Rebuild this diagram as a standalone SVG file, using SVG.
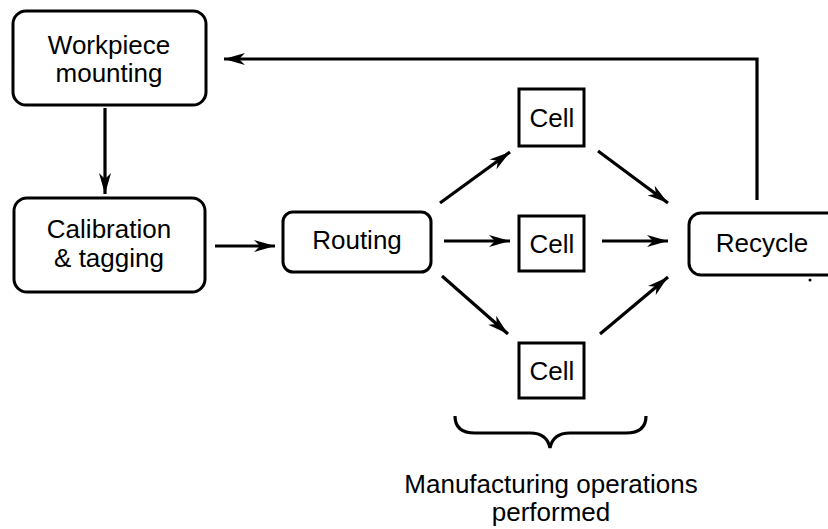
<svg xmlns="http://www.w3.org/2000/svg" width="828" height="529" viewBox="0 0 828 529">
<style>
.box{fill:#fff;stroke:#000;stroke-width:3}
.t{font-family:"Liberation Sans",Arial,Helvetica,sans-serif;font-size:26px;fill:#000;text-anchor:middle}
.c{fill:none;stroke:#000;stroke-width:3.2}
</style>
<defs>
<marker id="ah" markerUnits="userSpaceOnUse" markerWidth="26" markerHeight="16" viewBox="-22 -8 24 16" refX="0" refY="0" orient="auto">
<path d="M0,0 L-21,-6 L-15,0 L-21,6 Z" fill="#000"/>
</marker>
</defs>
<rect width="828" height="529" fill="#fff"/>
<g id="connectors">
<path class="c" d="M757,200 V59 H224" marker-end="url(#ah)"/>
<path class="c" d="M105,108 V194" marker-end="url(#ah)"/>
<path class="c" d="M215,246 H275" marker-end="url(#ah)"/>
<path class="c" d="M440,203 L510,152" marker-end="url(#ah)"/>
<path class="c" d="M444,241 H510" marker-end="url(#ah)"/>
<path class="c" d="M442,276 L508,334" marker-end="url(#ah)"/>
<path class="c" d="M598,151 L668,203" marker-end="url(#ah)"/>
<path class="c" d="M602,241 H668" marker-end="url(#ah)"/>
<path class="c" d="M600,334 L668,277" marker-end="url(#ah)"/>
</g>
<g id="workpiece">
<rect class="box" x="13" y="11" width="193" height="94" rx="13"/>
<text class="t" x="109" y="54">Workpiece</text>
<text class="t" x="109" y="82">mounting</text>
</g>
<g id="calibration">
<rect class="box" x="14" y="198" width="191" height="94" rx="13"/>
<text class="t" x="109" y="238">Calibration</text>
<text class="t" x="109" y="267">&amp; tagging</text>
</g>
<g id="routing">
<rect class="box" x="283" y="212" width="148" height="60" rx="10"/>
<text class="t" x="357" y="249">Routing</text>
</g>
<g id="cell1">
<rect class="box" x="519" y="89" width="65" height="57"/>
<text class="t" x="552" y="127">Cell</text>
</g>
<g id="cell2">
<rect class="box" x="519" y="216" width="65" height="55"/>
<text class="t" x="552" y="253">Cell</text>
</g>
<g id="cell3">
<rect class="box" x="519" y="343" width="65" height="55"/>
<text class="t" x="552" y="380">Cell</text>
</g>
<g id="recycle">
<rect class="box" x="689" y="213" width="160" height="62" rx="12"/>
<text class="t" x="762" y="252">Recycle</text>
<circle cx="810" cy="280" r="1.5" fill="#000"/>
</g>
<g id="brace">
<path class="c" d="M455,416 Q455,433 475,433 H530 Q547,433 550,448 Q553,433 570,433 H626 Q646,433 646,416"/>
</g>
<g id="label">
<text class="t" x="551" y="493">Manufacturing operations</text>
<text class="t" x="551" y="521">performed</text>
</g>
</svg>
